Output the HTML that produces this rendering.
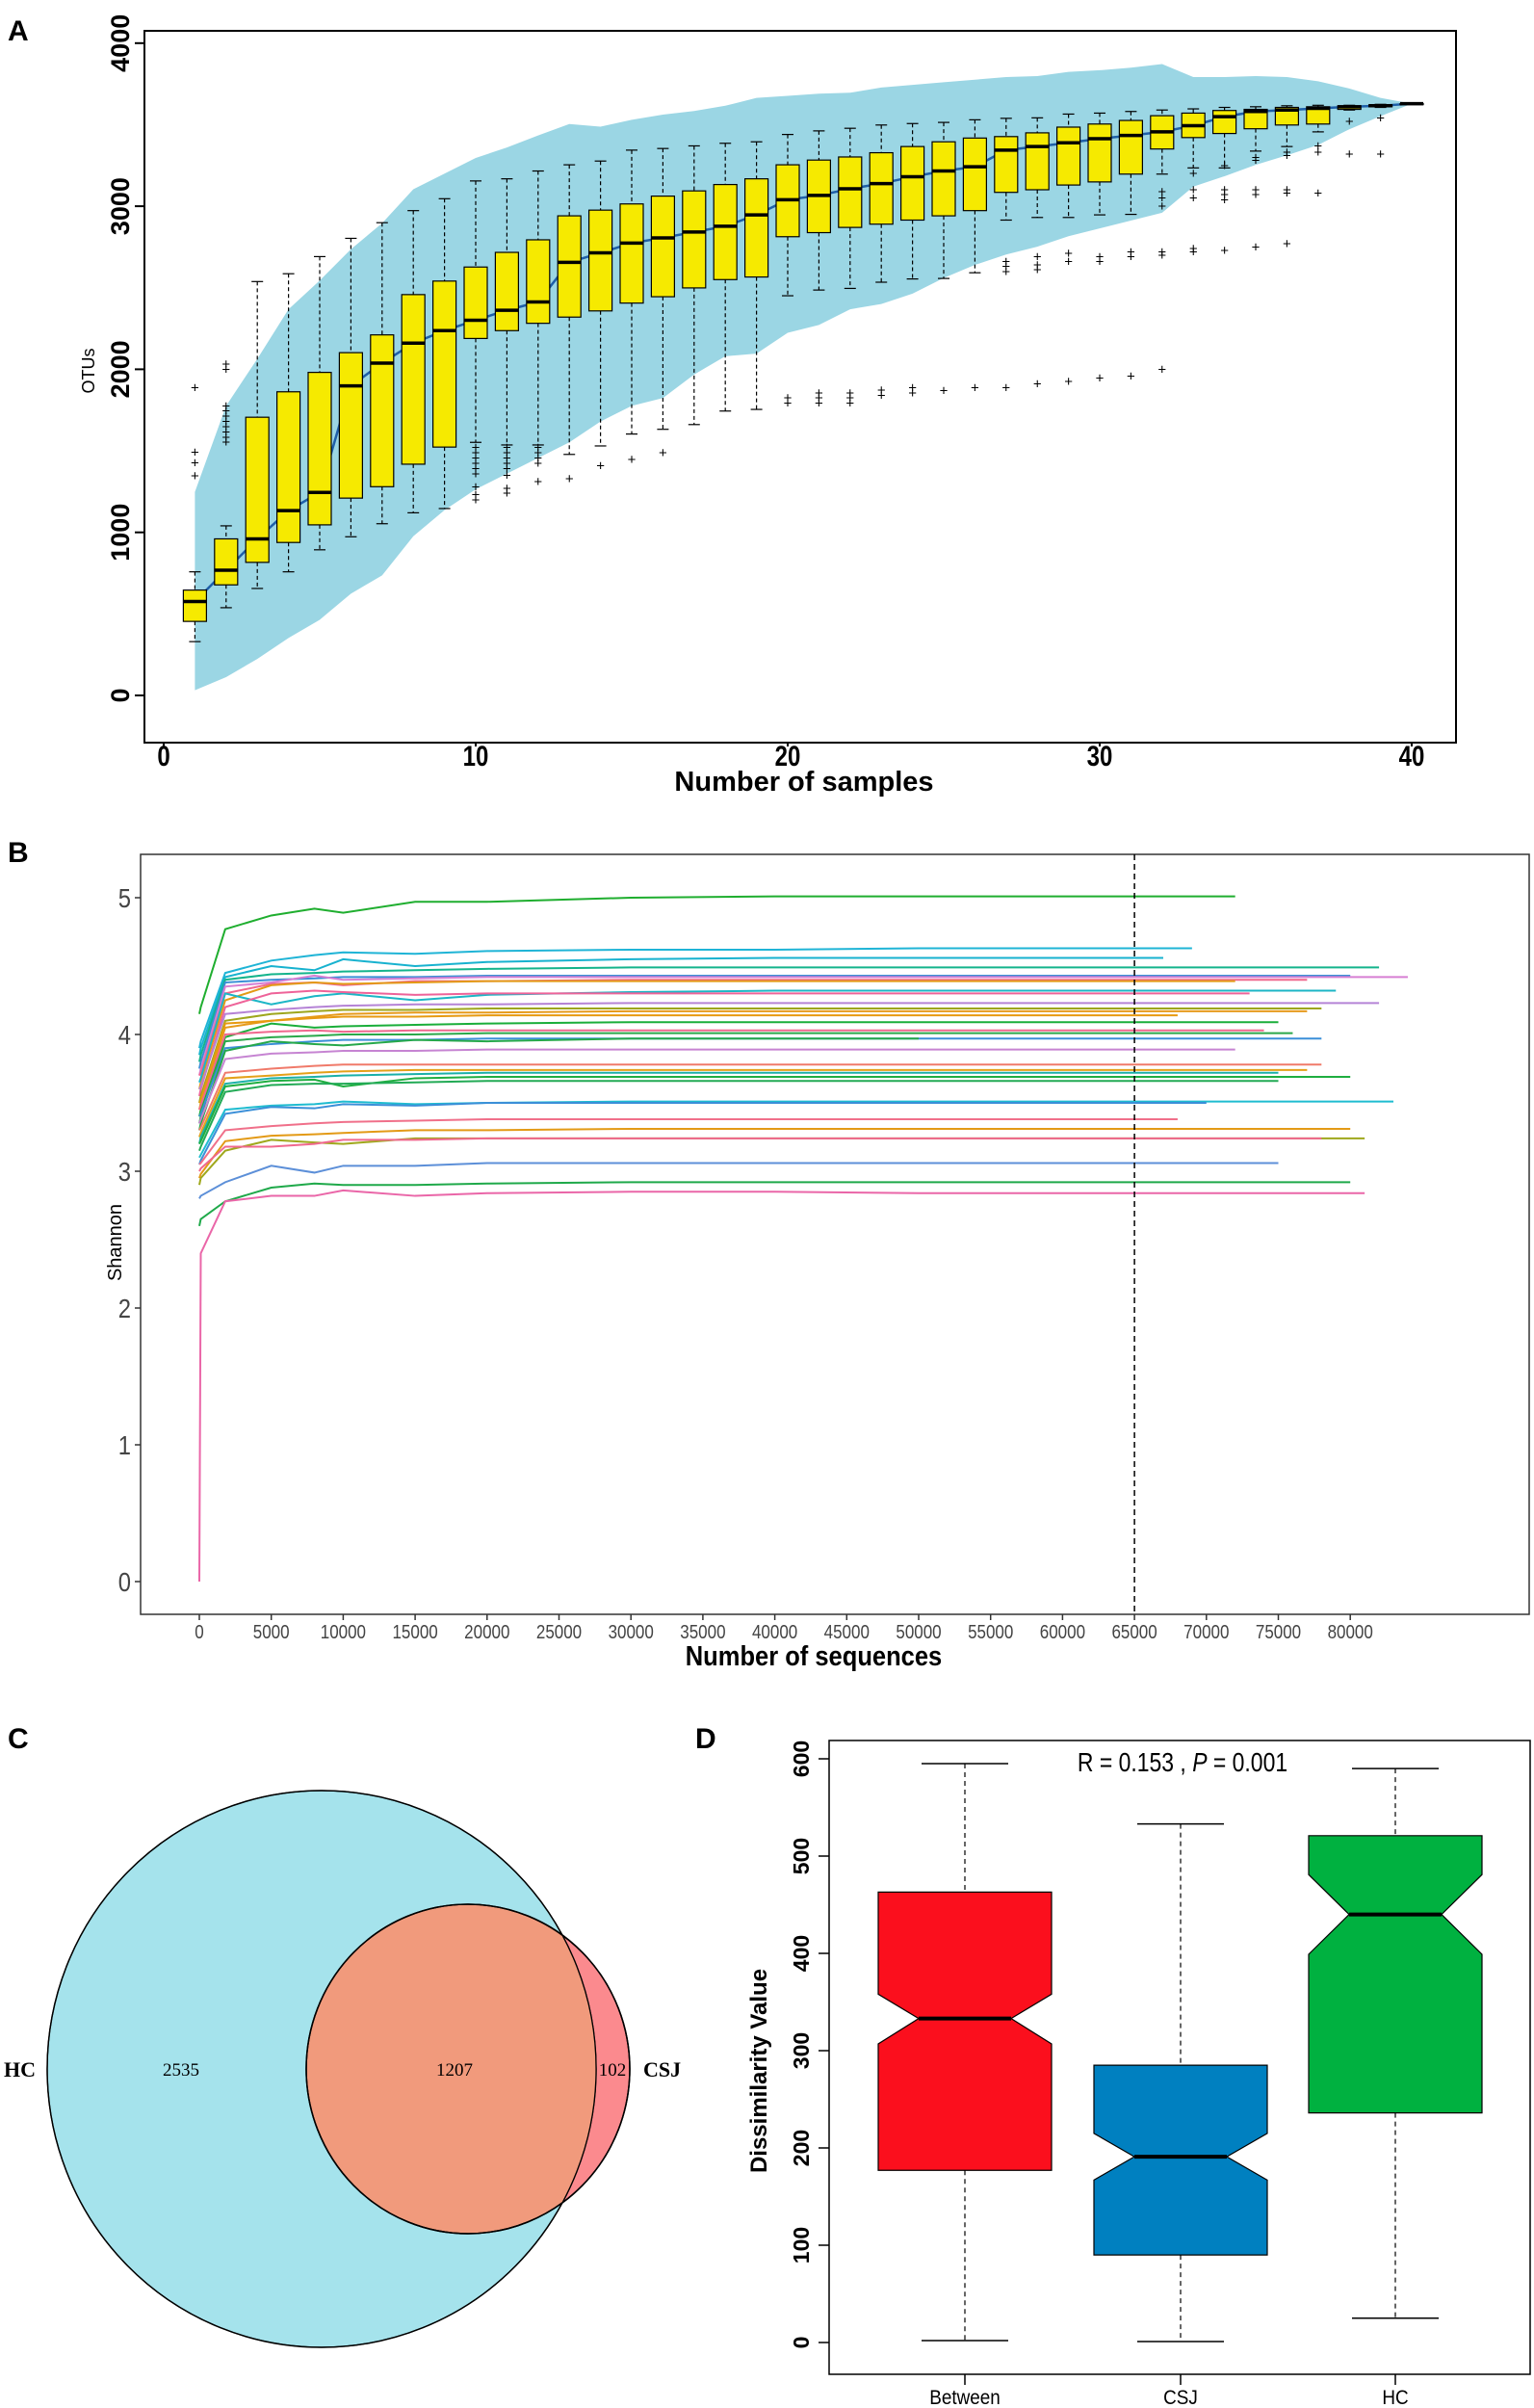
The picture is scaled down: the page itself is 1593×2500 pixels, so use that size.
<!DOCTYPE html>
<html><head><meta charset="utf-8"><style>
html,body{margin:0;padding:0;background:#fff}
svg{display:block;font-family:"Liberation Sans",sans-serif}
</style></head><body>
<svg id="fig" width="1593" height="2500" viewBox="0 0 1593 2500" xmlns="http://www.w3.org/2000/svg">
<text x="8" y="42" font-size="30" font-weight="bold">A</text>
<text x="8" y="895" font-size="30" font-weight="bold">B</text>
<text x="8" y="1815" font-size="30" font-weight="bold">C</text>
<text x="722" y="1815" font-size="30" font-weight="bold">D</text>
<g id="pa"></g>
<g id="pb"></g>
<g id="pc"></g>
<g id="pd"></g>
</svg>
<script>
// ---------- Panel A data ----------
const aSamples=[1,2,3,4,5,6,7,8,9,10,11,12,13,14,15,16,17,18,19,20,21,22,23,24,25,26,27,28,29,30,31,32,33,34,35,36,37,38,39,40];
const aQ3=[646,960,1706,1862,1981,2102,2211,2458,2541,2627,2717,2794,2941,2976,3014,3062,3094,3133,3168,3254,3283,3302,3328,3366,3395,3418,3427,3450,3485,3504,3526,3555,3571,3587,3594,3606,3610,3616,3622,3629];
const aMed=[576,768,960,1133,1245,1898,2038,2160,2237,2301,2362,2413,2656,2714,2774,2806,2842,2877,2947,3040,3066,3107,3139,3181,3216,3242,3344,3366,3389,3414,3434,3456,3494,3549,3581,3590,3600,3610,3616,3629];
const aQ1=[454,678,816,938,1046,1210,1280,1418,1523,2189,2237,2282,2320,2358,2406,2445,2499,2550,2566,2813,2838,2870,2890,2915,2941,2973,3085,3101,3130,3149,3197,3351,3421,3446,3475,3498,3504,3594,3610,3629];
const aHi=[758,1040,2538,2586,2691,2803,2899,2973,3046,3155,3168,3216,3254,3277,3344,3354,3370,3386,3395,3440,3462,3478,3498,3507,3514,3530,3539,3542,3565,3571,3581,3590,3597,3606,3610,3616,3619,3619,3625,3629];
const aLo=[330,538,656,758,893,973,1053,1120,1146,1552,1536,1536,1478,1530,1603,1632,1661,1744,1754,2451,2486,2496,2534,2554,2557,2592,2915,2931,2931,2947,2950,3197,3235,3235,3338,3366,3456,3590,3606,3629];
const aBandUp=[1248,1776,2064,2368,2544,2736,2896,3104,3200,3296,3360,3434,3504,3488,3530,3562,3584,3616,3664,3677,3690,3696,3728,3744,3760,3776,3792,3798,3824,3834,3850,3872,3792,3792,3798,3792,3766,3722,3664,3629];
const aBandLo=[32,112,224,352,464,624,736,976,1136,1264,1360,1456,1552,1680,1776,1824,1968,2080,2096,2224,2272,2368,2400,2464,2560,2640,2704,2752,2816,2864,2912,2960,3120,3184,3254,3312,3376,3472,3552,3629];
const aOutX=[1,1,1,1,2,2,2,2,2,2,2,2,2,2,10,10,10,10,10,10,10,10,10,11,11,11,11,11,11,11,11,12,12,12,12,12,13,14,15,16,20,20,21,21,21,22,22,22,23,23,24,24,25,26,27,28,29,30,31,32,27,27,27,28,28,28,29,29,30,30,31,31,32,32,32,32,32,33,33,33,33,33,34,34,34,34,34,35,35,35,35,35,36,36,36,36,36,37,37,37,38,38,39,39];
const aOutV=[1888,1491,1427,1347,2032,2000,1776,1744,1712,1680,1648,1616,1584,1552,1520,1488,1456,1424,1392,1360,1280,1232,1200,1520,1488,1456,1424,1392,1350,1270,1240,1520,1488,1456,1424,1310,1330,1408,1446,1488,1824,1792,1856,1824,1792,1856,1824,1792,1872,1840,1888,1856,1869,1888,1888,1910,1926,1946,1958,2000,2660,2630,2600,2690,2640,2610,2710,2660,2690,2660,2720,2690,3090,3050,3000,2720,2700,3200,3100,3050,2740,2720,3250,3100,3070,3040,2730,3300,3280,3100,3070,2750,3330,3310,3100,3080,2770,3370,3330,3080,3520,3320,3540,3320];
const aXTicks=[0,10,20,30,40];
const aYTicks=[0,1000,2000,3000,4000];

// ---------- Panel B data ----------
const bXs=[0,100,1800,5000,8000,10000,15000,20000,30000,40000,50000];
const bColors=['#1fae2f','#1fb4d6','#17b2cf','#14b48c','#3a8fd6','#d67fd3','#f0688e','#e39a16','#1cb6c6','#ee6399','#b583d6','#9ea61c','#e69a1a','#e79a10','#1aae3a','#f0688e','#2aa84a','#3b8fd8','#25a84a','#c684d2','#f07a6a','#e4a11a','#1ab0a8','#1fae40','#22aa55','#1fbcd0','#3b8fd8','#f0708a','#e39a16','#9fa81c','#f0688e','#5c8fd8','#1fa94a','#ea66a8'];
const bEnds=[72000,69000,67000,82000,80000,84000,77000,72000,79000,73000,82000,78000,77000,68000,75000,74000,76000,78000,45000,72000,78000,77000,75000,80000,75000,83000,70000,68000,80000,81000,78000,75000,80000,81000];
const bVals=[
[4.15,4.20,4.77,4.87,4.92,4.89,4.97,4.97,5.00,5.01,5.01],
[3.90,3.95,4.45,4.54,4.58,4.60,4.59,4.61,4.62,4.62,4.63],
[3.85,3.90,4.42,4.50,4.47,4.55,4.50,4.53,4.55,4.56,4.56],
[3.80,3.85,4.40,4.44,4.45,4.46,4.47,4.48,4.49,4.49,4.49],
[3.75,3.80,4.38,4.40,4.41,4.42,4.42,4.43,4.43,4.43,4.43],
[3.70,3.75,4.35,4.38,4.43,4.40,4.41,4.42,4.42,4.42,4.42],
[3.70,3.72,4.30,4.37,4.38,4.36,4.39,4.39,4.40,4.40,4.40],
[3.60,3.65,4.25,4.36,4.38,4.37,4.38,4.39,4.39,4.39,4.39],
[3.65,3.68,4.30,4.22,4.28,4.30,4.25,4.29,4.31,4.32,4.32],
[3.55,3.60,4.20,4.30,4.32,4.31,4.29,4.30,4.30,4.30,4.30],
[3.60,3.62,4.15,4.18,4.20,4.21,4.22,4.22,4.23,4.23,4.23],
[3.50,3.55,4.10,4.15,4.17,4.18,4.18,4.19,4.19,4.19,4.19],
[3.45,3.50,4.05,4.10,4.13,4.15,4.16,4.16,4.17,4.17,4.17],
[3.50,3.52,4.08,4.10,4.12,4.13,4.13,4.14,4.14,4.14,4.14],
[3.40,3.45,3.98,4.08,4.05,4.06,4.07,4.08,4.09,4.09,4.09],
[3.45,3.48,4.00,4.02,4.03,4.02,4.03,4.03,4.03,4.03,4.03],
[3.35,3.40,3.95,3.98,3.99,4.00,4.00,4.01,4.01,4.01,4.01],
[3.40,3.42,3.90,3.93,3.95,3.96,3.96,3.97,3.97,3.97,3.97],
[3.30,3.35,3.88,3.95,3.93,3.92,3.96,3.95,3.97,3.97,3.97],
[3.35,3.38,3.82,3.86,3.87,3.88,3.88,3.89,3.89,3.89,3.89],
[3.30,3.32,3.72,3.75,3.77,3.78,3.78,3.78,3.78,3.78,3.78],
[3.25,3.28,3.68,3.70,3.72,3.73,3.74,3.74,3.74,3.74,3.74],
[3.20,3.25,3.64,3.68,3.69,3.70,3.71,3.72,3.72,3.72,3.72],
[3.20,3.22,3.62,3.66,3.67,3.62,3.68,3.69,3.69,3.69,3.69],
[3.15,3.18,3.58,3.63,3.64,3.64,3.65,3.66,3.66,3.66,3.66],
[3.10,3.12,3.45,3.48,3.49,3.51,3.49,3.50,3.51,3.51,3.51],
[3.05,3.08,3.42,3.47,3.46,3.49,3.48,3.50,3.50,3.50,3.50],
[3.05,3.06,3.30,3.33,3.35,3.36,3.37,3.38,3.38,3.38,3.38],
[2.95,2.98,3.22,3.26,3.27,3.28,3.30,3.30,3.31,3.31,3.31],
[2.90,2.95,3.15,3.23,3.21,3.20,3.24,3.24,3.24,3.24,3.24],
[3.00,3.02,3.18,3.18,3.20,3.23,3.23,3.24,3.24,3.24,3.24],
[2.80,2.82,2.92,3.04,2.99,3.04,3.04,3.06,3.06,3.06,3.06],
[2.60,2.65,2.78,2.88,2.91,2.90,2.90,2.91,2.92,2.92,2.92],
[0.00,2.40,2.78,2.82,2.82,2.86,2.82,2.84,2.85,2.85,2.84]];
const bXTicks=[0,5000,10000,15000,20000,25000,30000,35000,40000,45000,50000,55000,60000,65000,70000,75000,80000];
const bYTicks=[0,1,2,3,4,5];
const bCutoff=65000;

// ---------- Panel C data ----------
const cCounts=[2535,1207,102];
const cNames=['HC','CSJ'];

// ---------- Panel D data ----------
const dGroups=['Between','CSJ','HC'];
const dColors=['#fb0f1d','#0080c0','#00b140'];
const dLo=[2,1,25];
const dQ1=[177,90,236];
const dMed=[333,191,440];
const dQ3=[463,285,521];
const dHi=[595,533,590];
const dNotchLo=[307,167,399];
const dNotchHi=[358,215,481];
const dYTicks=[0,100,200,300,400,500,600];

const NS='http://www.w3.org/2000/svg';
function mk(parent,tag,attrs,text){const e=document.createElementNS(NS,tag);for(const k in attrs)e.setAttribute(k,attrs[k]);if(text!==undefined)e.textContent=text;parent.appendChild(e);return e;}

// ===== Panel A =====
(function(){
const g=document.getElementById('pa');
const X=v=>170+v*32.4, Y=v=>722-v*0.1693;
let up=aSamples.map((s,i)=>X(s)+','+Y(aBandUp[i]));
let lo=aSamples.map((s,i)=>X(s)+','+Y(aBandLo[i])).reverse();
const band=mk(g,'polygon',{points:up.concat(lo).join(' '),fill:'#9bd6e4'});


const ml=mk(g,'polyline',{points:aSamples.map((s,i)=>X(s)+','+Y(aMed[i])).join(' '),fill:'none',stroke:'#1f5fa8','stroke-width':2.5});


aSamples.forEach((s,i)=>{
  const b=mk(g,'g',{});
  
  
  const cx=X(s),hw=12;
  mk(b,'line',{x1:cx,x2:cx,y1:Y(aHi[i]),y2:Y(aQ3[i]),stroke:'#000','stroke-dasharray':'4,3','stroke-width':1.2});
  mk(b,'line',{x1:cx,x2:cx,y1:Y(aQ1[i]),y2:Y(aLo[i]),stroke:'#000','stroke-dasharray':'4,3','stroke-width':1.2});
  mk(b,'line',{x1:cx-6,x2:cx+6,y1:Y(aHi[i]),y2:Y(aHi[i]),stroke:'#000','stroke-width':1.2});
  mk(b,'line',{x1:cx-6,x2:cx+6,y1:Y(aLo[i]),y2:Y(aLo[i]),stroke:'#000','stroke-width':1.2});
  mk(b,'rect',{x:cx-hw,y:Y(aQ3[i]),width:2*hw,height:Math.max(1,Y(aQ1[i])-Y(aQ3[i])),fill:'#f6ea00',stroke:'#000','stroke-width':1.2});
  mk(b,'line',{x1:cx-hw,x2:cx+hw,y1:Y(aMed[i]),y2:Y(aMed[i]),stroke:'#000','stroke-width':3.5});
});
aOutX.forEach((s,i)=>{
  const t=mk(g,'text',{x:X(s),y:Y(aOutV[i])+5,'font-size':15,'text-anchor':'middle'},'+');
  
  
});
mk(g,'rect',{x:150,y:32,width:1362,height:739,fill:'none',stroke:'#000','stroke-width':2});
aXTicks.forEach(v=>{
  mk(g,'line',{x1:X(v),x2:X(v),y1:771,y2:775,stroke:'#000','stroke-width':2});
  const t=mk(g,'text',{x:X(v),y:795,'font-size':30,'font-weight':'bold','text-anchor':'middle',transform:`translate(${X(v)},0) scale(0.8,1) translate(${-X(v)},0)`},String(v));
  
  
});
aYTicks.forEach(v=>{
  mk(g,'line',{x1:140,x2:150,y1:Y(v),y2:Y(v),stroke:'#000','stroke-width':2});
  const t=mk(g,'text',{x:0,y:0,'font-size':27,'font-weight':'bold','text-anchor':'middle',transform:`translate(134,${Y(v)}) rotate(-90)`},String(v));
  
  
});
const xt=mk(g,'text',{x:835,y:821,'font-size':29,'font-weight':'bold','text-anchor':'middle'},'Number of samples');


const yt=mk(g,'text',{x:0,y:0,'font-size':18,'text-anchor':'middle',transform:'translate(98,385) rotate(-90)'},'OTUs');


})();

// ===== Panel B =====
(function(){
const g=document.getElementById('pb');
const X=v=>207+v*0.01494, Y=v=>1642-v*142;
mk(g,'rect',{x:146,y:887,width:1442,height:789,fill:'#fff',stroke:'#333','stroke-width':1.5});
bVals.forEach((vals,i)=>{
  const pts=bXs.map((x,j)=>X(x)+','+Y(vals[j]));
  pts.push(X(bEnds[i])+','+Y(vals[vals.length-1]));
  const l=mk(g,'polyline',{points:pts.join(' '),fill:'none',stroke:bColors[i],'stroke-width':2});
  
  
});
const cut=mk(g,'line',{x1:X(bCutoff),x2:X(bCutoff),y1:887,y2:1676,stroke:'#000','stroke-width':1.5,'stroke-dasharray':'6,4'});


bXTicks.forEach(v=>{
  mk(g,'line',{x1:X(v),x2:X(v),y1:1676,y2:1682,stroke:'#333','stroke-width':1.5});
  const t=mk(g,'text',{x:X(v),y:1701,'font-size':20,fill:'#444','text-anchor':'middle',transform:`translate(${X(v)},0) scale(0.85,1) translate(${-X(v)},0)`},String(v));
  
  
});
bYTicks.forEach(v=>{
  mk(g,'line',{x1:140,x2:146,y1:Y(v),y2:Y(v),stroke:'#333','stroke-width':1.5});
  const t=mk(g,'text',{x:136,y:Y(v)+10,'font-size':28,fill:'#444','text-anchor':'end',transform:`translate(136,0) scale(0.85,1) translate(-136,0)`},String(v));
  
  
});
const xt=mk(g,'text',{x:845,y:1729,'font-size':29,'font-weight':'bold','text-anchor':'middle',transform:'translate(845,0) scale(0.88,1) translate(-845,0)'},'Number of sequences');


const yt=mk(g,'text',{x:0,y:0,'font-size':20,'text-anchor':'middle',transform:'translate(126,1290) rotate(-90)'},'Shannon');


})();

// ===== Panel C =====
(function(){
const g=document.getElementById('pc');
const defs=mk(g,'defs',{});
const cp=mk(defs,'clipPath',{id:'bigclip'});
mk(cp,'ellipse',{cx:334,cy:2148,rx:285,ry:289});
const csj=mk(g,'ellipse',{cx:486,cy:2148,rx:168,ry:171,fill:'#fb8a8e',stroke:'#000','stroke-width':1.5});


const hc=mk(g,'ellipse',{cx:334,cy:2148,rx:285,ry:289,fill:'#a5e3ec',stroke:'#000','stroke-width':1.5});


const ov=mk(g,'ellipse',{cx:486,cy:2148,rx:168,ry:171,fill:'#f19a7c',stroke:'#000','stroke-width':1.5,'clip-path':'url(#bigclip)'});


mk(g,'ellipse',{cx:486,cy:2148,rx:168,ry:171,fill:'none',stroke:'#000','stroke-width':1.5});
mk(g,'ellipse',{cx:334,cy:2148,rx:285,ry:289,fill:'none',stroke:'#000','stroke-width':1.2});
const tx=[188,472,636];
cCounts.forEach((c,i)=>{
  const t=mk(g,'text',{x:tx[i],y:2155,'font-size':19,'font-family':'Liberation Serif, serif','text-anchor':'middle'},String(c));
  
  
});
const l1=mk(g,'text',{x:4,y:2156,'font-size':22,'font-weight':'bold','font-family':'Liberation Serif, serif'},cNames[0]);


const l2=mk(g,'text',{x:668,y:2156,'font-size':22,'font-weight':'bold','font-family':'Liberation Serif, serif'},cNames[1]);


})();

// ===== Panel D =====
(function(){
const g=document.getElementById('pd');
const Y=v=>2432-v*1.01;
const xs=[1002,1226,1449];
const hw=90,nw=48;
dGroups.forEach((name,i)=>{
  const b=mk(g,'g',{});
  
  
  const cx=xs[i];
  mk(b,'line',{x1:cx,x2:cx,y1:Y(dHi[i]),y2:Y(dQ3[i]),stroke:'#000','stroke-dasharray':'5,4','stroke-width':1.2});
  mk(b,'line',{x1:cx,x2:cx,y1:Y(dQ1[i]),y2:Y(dLo[i]),stroke:'#000','stroke-dasharray':'5,4','stroke-width':1.2});
  mk(b,'line',{x1:cx-45,x2:cx+45,y1:Y(dHi[i]),y2:Y(dHi[i]),stroke:'#000','stroke-width':1.5});
  mk(b,'line',{x1:cx-45,x2:cx+45,y1:Y(dLo[i]),y2:Y(dLo[i]),stroke:'#000','stroke-width':1.5});
  const nh=dNotchHi[i], nl=dNotchLo[i];
  const pts=[[cx-hw,Y(dQ3[i])],[cx+hw,Y(dQ3[i])],[cx+hw,Y(nh)],[cx+nw,Y(dMed[i])],[cx+hw,Y(nl)],[cx+hw,Y(dQ1[i])],[cx-hw,Y(dQ1[i])],[cx-hw,Y(nl)],[cx-nw,Y(dMed[i])],[cx-hw,Y(nh)]];
  mk(b,'polygon',{points:pts.map(p=>p.join(',')).join(' '),fill:dColors[i],stroke:'#000','stroke-width':1.2});
  mk(b,'line',{x1:cx-nw,x2:cx+nw,y1:Y(dMed[i]),y2:Y(dMed[i]),stroke:'#000','stroke-width':4});
  mk(g,'line',{x1:cx,x2:cx,y1:2465,y2:2476,stroke:'#000','stroke-width':1.5});
  const t=mk(g,'text',{x:cx,y:2496,'font-size':21,'text-anchor':'middle',transform:`translate(${cx},0) scale(0.9,1) translate(${-cx},0)`},name);
  
  
});
mk(g,'rect',{x:861,y:1807,width:728,height:658,fill:'none',stroke:'#000','stroke-width':1.5});
dYTicks.forEach(v=>{
  mk(g,'line',{x1:850,x2:861,y1:Y(v),y2:Y(v),stroke:'#000','stroke-width':1.5});
  const t=mk(g,'text',{x:0,y:0,'font-size':23,'font-weight':'bold','text-anchor':'middle',transform:`translate(840,${Y(v)}) rotate(-90)`},String(v));
  
  
});
const yt=mk(g,'text',{x:0,y:0,'font-size':24,'font-weight':'bold','text-anchor':'middle',transform:'translate(796,2150) rotate(-90)'},'Dissimilarity Value');


const st=mk(g,'text',{x:1228,y:1839,'font-size':28,'text-anchor':'middle',transform:'translate(1228,0) scale(0.82,1) translate(-1228,0)'});


st.innerHTML='R = 0.153 , <tspan font-style="italic">P</tspan> = 0.001';
})();
</script>
</body></html>
